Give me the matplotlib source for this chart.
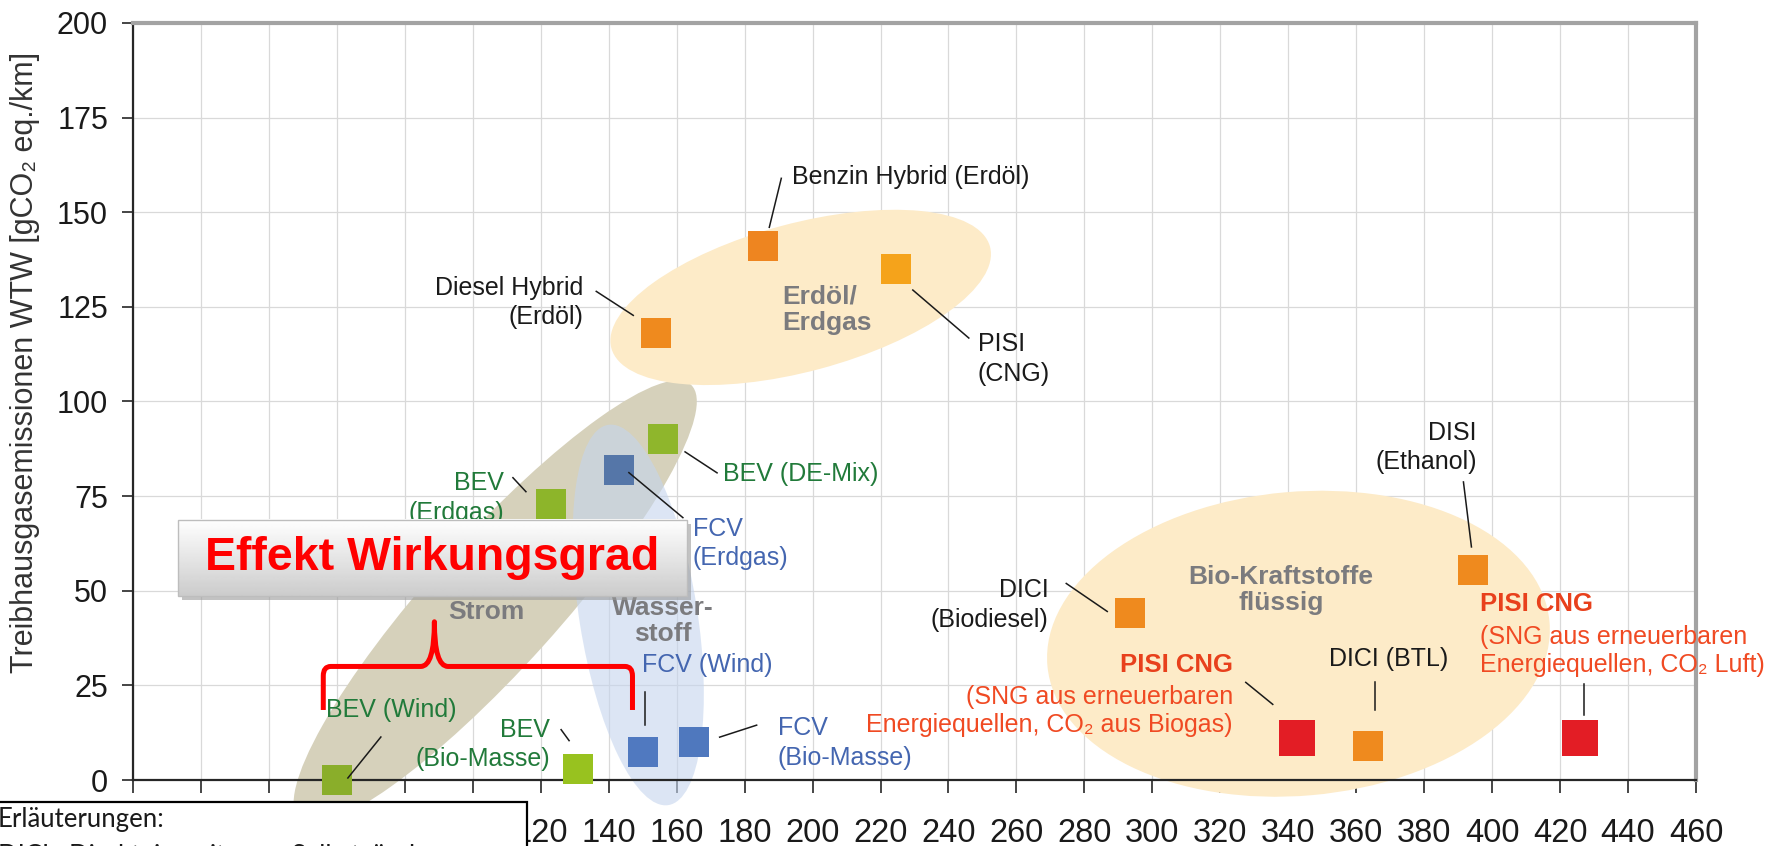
import numpy as np
import matplotlib
matplotlib.use('Agg')
import matplotlib.pyplot as plt
from matplotlib.patches import Ellipse, Rectangle, PathPatch
from matplotlib.path import Path
from matplotlib.transforms import IdentityTransform

plt.rcParams['font.family'] = ['Liberation Sans', 'DejaVu Sans']

# WTW energy demand (x) and greenhouse gas emissions (y) per pathway
names = ['BEV (Wind)', 'BEV (Bio-Masse)', 'BEV (Erdgas)', 'BEV (DE-Mix)',
         'FCV (Erdgas)', 'FCV (Wind)', 'FCV (Bio-Masse)',
         'Diesel Hybrid (Erdöl)', 'Benzin Hybrid (Erdöl)', 'PISI (CNG)',
         'DICI (Biodiesel)', 'PISI CNG (Biogas)', 'DICI (BTL)',
         'DISI (Ethanol)', 'PISI CNG (Luft)']
energy = [60, 131, 123, 156, 143, 150, 165, 154, 185.5, 224.5,
          293.5, 342.5, 363.5, 394.5, 426]
ghg = [0, 3, 73, 90, 82, 7.5, 10, 118, 141, 135, 44, 11, 9, 55.5, 11]
colors = ['#8aae2a', '#98c21f', '#8db52a', '#8fb62c',
          '#5576a8', '#5079c0', '#4f78be',
          '#ef8a1e', '#ee8520', '#f5a31b',
          '#ef8a1e', '#e31d25', '#ef8a1e', '#ef8a1e', '#e31d25']
big = [False] * 11 + [True, False, False, True]

xticks = list(range(0, 461, 20))
# labels up to 100 sit under the explanation box
xlabels = ['' if t <= 100 else str(t) for t in xticks]
yticks = list(range(0, 201, 25))

green = '#217a3a'
blue = '#4466b0'
black = '#1a1a1a'
red = '#f04a23'

# label text, colour, alignment, label offset, leader start, leader end (pixels, y down)
notes = {
    'BEV (Wind)': ('BEV (Wind)', green, 'left', (-11, -70), (11, -2), (44, -43)),
    'BEV (Bio-Masse)': ('BEV\n(Bio-Masse)', green, 'right', (-28, -24), (-17, -39), (-9, -28)),
    'BEV (Erdgas)': ('BEV\n(Erdgas)', green, 'right', (-47, -6), (-38, -26), (-25, -12)),
    'BEV (DE-Mix)': ('BEV (DE-Mix)', green, 'left', (60, 34.5), (22, 12.5), (54, 33.5)),
    'FCV (Erdgas)': ('FCV\n(Erdgas)', blue, 'left', (74, 74), (10, 3), (64, 48)),
    'FCV (Wind)': ('FCV (Wind)', blue, 'left', (-1, -86.6), (2, -60), (2, -27)),
    'FCV (Bio-Masse)': ('FCV\n(Bio-Masse)', blue, 'left', (84, 1), (26, -5), (63, -17)),
    'Diesel Hybrid (Erdöl)': ('Diesel Hybrid\n(Erdöl)', black, 'right', (-73, -31), (-60, -42), (-23, -18)),
    'Benzin Hybrid (Erdöl)': ('Benzin Hybrid (Erdöl)', black, 'left', (29, -69), (18, -68), (6, -19)),
    'PISI (CNG)': ('PISI\n(CNG)', black, 'left', (82, 90), (17, 21), (73, 69)),
    'DICI (Biodiesel)': ('DICI\n(Biodiesel)', black, 'right', (-82, -8.5), (-64, -30), (-23, -2)),
    'DICI (BTL)': ('DICI (BTL)', black, 'center', (21, -87), (7, -64), (7, -36)),
    'DISI (Ethanol)': ('DISI\n(Ethanol)', black, 'right', (3.4, -122.5), (-10, -88), (-2, -23)),
    'PISI CNG (Biogas)': ('(SNG aus erneuerbaren\nEnergiequellen, CO\u2082 aus Biogas)', red, 'right',
                          (-64, -27), (-51, -56), (-24, -34)),
    'PISI CNG (Luft)': ('(SNG aus erneuerbaren\nEnergiequellen, CO\u2082 Luft)', red, 'left',
                        (-100.6, -87), (4, -54), (4, -23)),
}
heads = {'PISI CNG (Biogas)': ('right', (-64, -73.4)),
         'PISI CNG (Luft)': ('left', (-100.6, -134.4))}

# shaded groups: label, centre (data), size in pixels, angle, colour, alpha
groups = [
    ('Strom', (106.6, 47.0), (585, 130), 48, '#d6d1bb', 1.0),
    ('Wasser-\nstoff', (148.7, 43.6), (385, 118), 99, '#c5d5ee', 0.6),
    ('Erdöl/\nErdgas', (196.5, 127.5), (392, 148), 15, '#fdebc8', 1.0),
    ('Bio-Kraftstoffe\nflüssig', (343.0, 36.0), (504, 304), 5, '#fdebc8', 1.0),
]
group_text = {'Strom': ((104, 44.4), 'center'),
              'Wasser-\nstoff': ((156, 42), 'center'),
              'Erdöl/\nErdgas': ((191, 124.2), 'left'),
              'Bio-Kraftstoffe\nflüssig': ((337.8, 50.2), 'center')}

W, H = 1773, 846
fig = plt.figure(figsize=(W / 100, H / 100), dpi=100)
ax = fig.add_axes([133 / W, 66 / H, 1563 / W, 757 / H])
ax.set_xlim(0, 460)
ax.set_ylim(0, 200)
ax.set_xticks(xticks)
ax.set_xticklabels(xlabels)
ax.set_yticks(yticks)
ax.tick_params(axis='x', direction='out', length=9, width=1.2, pad=18,
               labelsize=23.5, colors='#262626', labelcolor='#1a1a1a')
ax.tick_params(axis='y', direction='out', length=8, width=1.2, pad=10,
               labelsize=22, colors='#262626', labelcolor='#1a1a1a')
ax.grid(True, color='#d9d9d9', lw=0.9, zorder=0)
ax.set_axisbelow(True)
for s in ['left', 'bottom']:
    ax.spines[s].set_color('#262626')
    ax.spines[s].set_linewidth(1.6)
for s in ['top', 'right']:
    ax.spines[s].set_color('#a3a3a3')
    ax.spines[s].set_linewidth(3)


def shift(x, y, dx, dy):
    px, py = ax.transData.transform((x, y))
    return ax.transData.inverted().transform((px + dx, py - dy))


# group ellipses drawn in pixel space so the shapes are not distorted
for label, (cx, cy), (w, h), ang, col, a in groups:
    px, py = ax.transData.transform((cx, cy))
    e = Ellipse((px, py), w, h, angle=ang, transform=IdentityTransform(),
                facecolor=col, edgecolor='none', alpha=a, zorder=1, clip_on=False)
    ax.add_artist(e)
    (tx, ty), ha = group_text[label]
    ax.text(tx, ty, label, ha=ha, va='center', multialignment=ha, fontsize=19,
            fontweight='bold', color='#7b7b7e', linespacing=1.15, zorder=2)

# markers
for x, y, c, b in zip(energy, ghg, colors, big):
    ax.plot(x, y, marker='s', ms=26.6 if b else 21.6, color=c, mew=0,
            ls='none', zorder=4, clip_on=False)

# labels and leader lines
for name, x, y in zip(names, energy, ghg):
    text, col, ha, off, l0, l1 = notes[name]
    p0 = shift(x, y, *l0)
    p1 = shift(x, y, *l1)
    ax.plot([p0[0], p1[0]], [p0[1], p1[1]], color='#1a1a1a', lw=1.1, zorder=5,
            clip_on=False)
    ax.annotate(text, (x, y), xytext=(off[0], -off[1]), textcoords='offset pixels',
                ha=ha, va='center', multialignment=ha, fontsize=18, color=col,
                linespacing=1.2 if col == red else 1.3, zorder=5,
                annotation_clip=False)
    if name in heads:
        hha, hoff = heads[name]
        ax.annotate('PISI CNG', (x, y), xytext=(hoff[0], -hoff[1]),
                    textcoords='offset pixels', ha=hha, va='center', fontsize=18.5,
                    fontweight='bold', color='#e8401c', zorder=5,
                    annotation_clip=False)

# "Effekt Wirkungsgrad" box with gradient
bx0, bx1, by0, by1 = 13.3, 163.1, 48.6, 68.7
ax.add_patch(Rectangle((bx0 + 1.0, by0 - 1.0), bx1 - bx0, by1 - by0,
                       facecolor='#9a9a9a', edgecolor='none', alpha=0.6, zorder=6))
grad = np.linspace(1.0, 0.80, 64).reshape(-1, 1)
ax.imshow(grad, extent=(bx0, bx1, by0, by1), cmap='gray', vmin=0, vmax=1,
          aspect='auto', origin='upper', zorder=6.1, interpolation='bilinear')
ax.add_patch(Rectangle((bx0, by0), bx1 - bx0, by1 - by0, facecolor='none',
                       edgecolor='#bdbdbd', lw=1, zorder=6.2))
ax.text(88, 58.65, 'Effekt Wirkungsgrad', ha='center', va='center', fontsize=33.5,
        fontweight='bold', color='#ff0000', zorder=7)
ax.set_xlim(0, 460)
ax.set_ylim(0, 200)

# brace under the efficiency box
xl, xr, yb, yh, xm, ytop = 56, 147, 18.5, 30, 88.7, 41.8
verts = [(xl, yb), (xl, yh - 2.5), (xl, yh), (xl + 2.2, yh), (xm - 4, yh),
         (xm, yh), (xm, ytop), (xm, yh), (xm + 4, yh), (xr - 2.2, yh),
         (xr, yh), (xr, yh - 2.5), (xr, yb)]
codes = [Path.MOVETO, Path.LINETO, Path.CURVE3, Path.CURVE3, Path.LINETO,
         Path.CURVE3, Path.CURVE3, Path.CURVE3, Path.CURVE3, Path.LINETO,
         Path.CURVE3, Path.CURVE3, Path.LINETO]
ax.add_patch(PathPatch(Path(verts, codes), facecolor='none', edgecolor='#ff0000',
                       lw=3.6, zorder=7, capstyle='butt', joinstyle='round'))

fig.text(25 / W, 1 - 362 / H, 'Treibhausgasemissionen WTW [gCO\u2082 eq./km]',
         rotation=90, ha='center', va='center', fontsize=22, color='#333333')

# explanation box in the lower left corner
fig.add_artist(Rectangle((-0.01, -0.05), 0.01 + 527 / W, 0.05 + 1 - 802 / H,
                         transform=fig.transFigure, facecolor='white',
                         edgecolor='black', lw=1.6, zorder=10))
fig.text(-2 / W, 1 - 827 / H, 'Erläuterungen:', ha='left', va='baseline',
         fontsize=18.5, family=['Lato', 'DejaVu Sans'], color='#1a1a1a', zorder=11)
fig.text(-2 / W, 1 - 864 / H, 'DICI:  Direkteinspritzung, Selbstzündung',
         ha='left', va='baseline', fontsize=18.5, family=['Lato', 'DejaVu Sans'],
         color='#1a1a1a', zorder=11)

fig.savefig('out.png', dpi=100)
